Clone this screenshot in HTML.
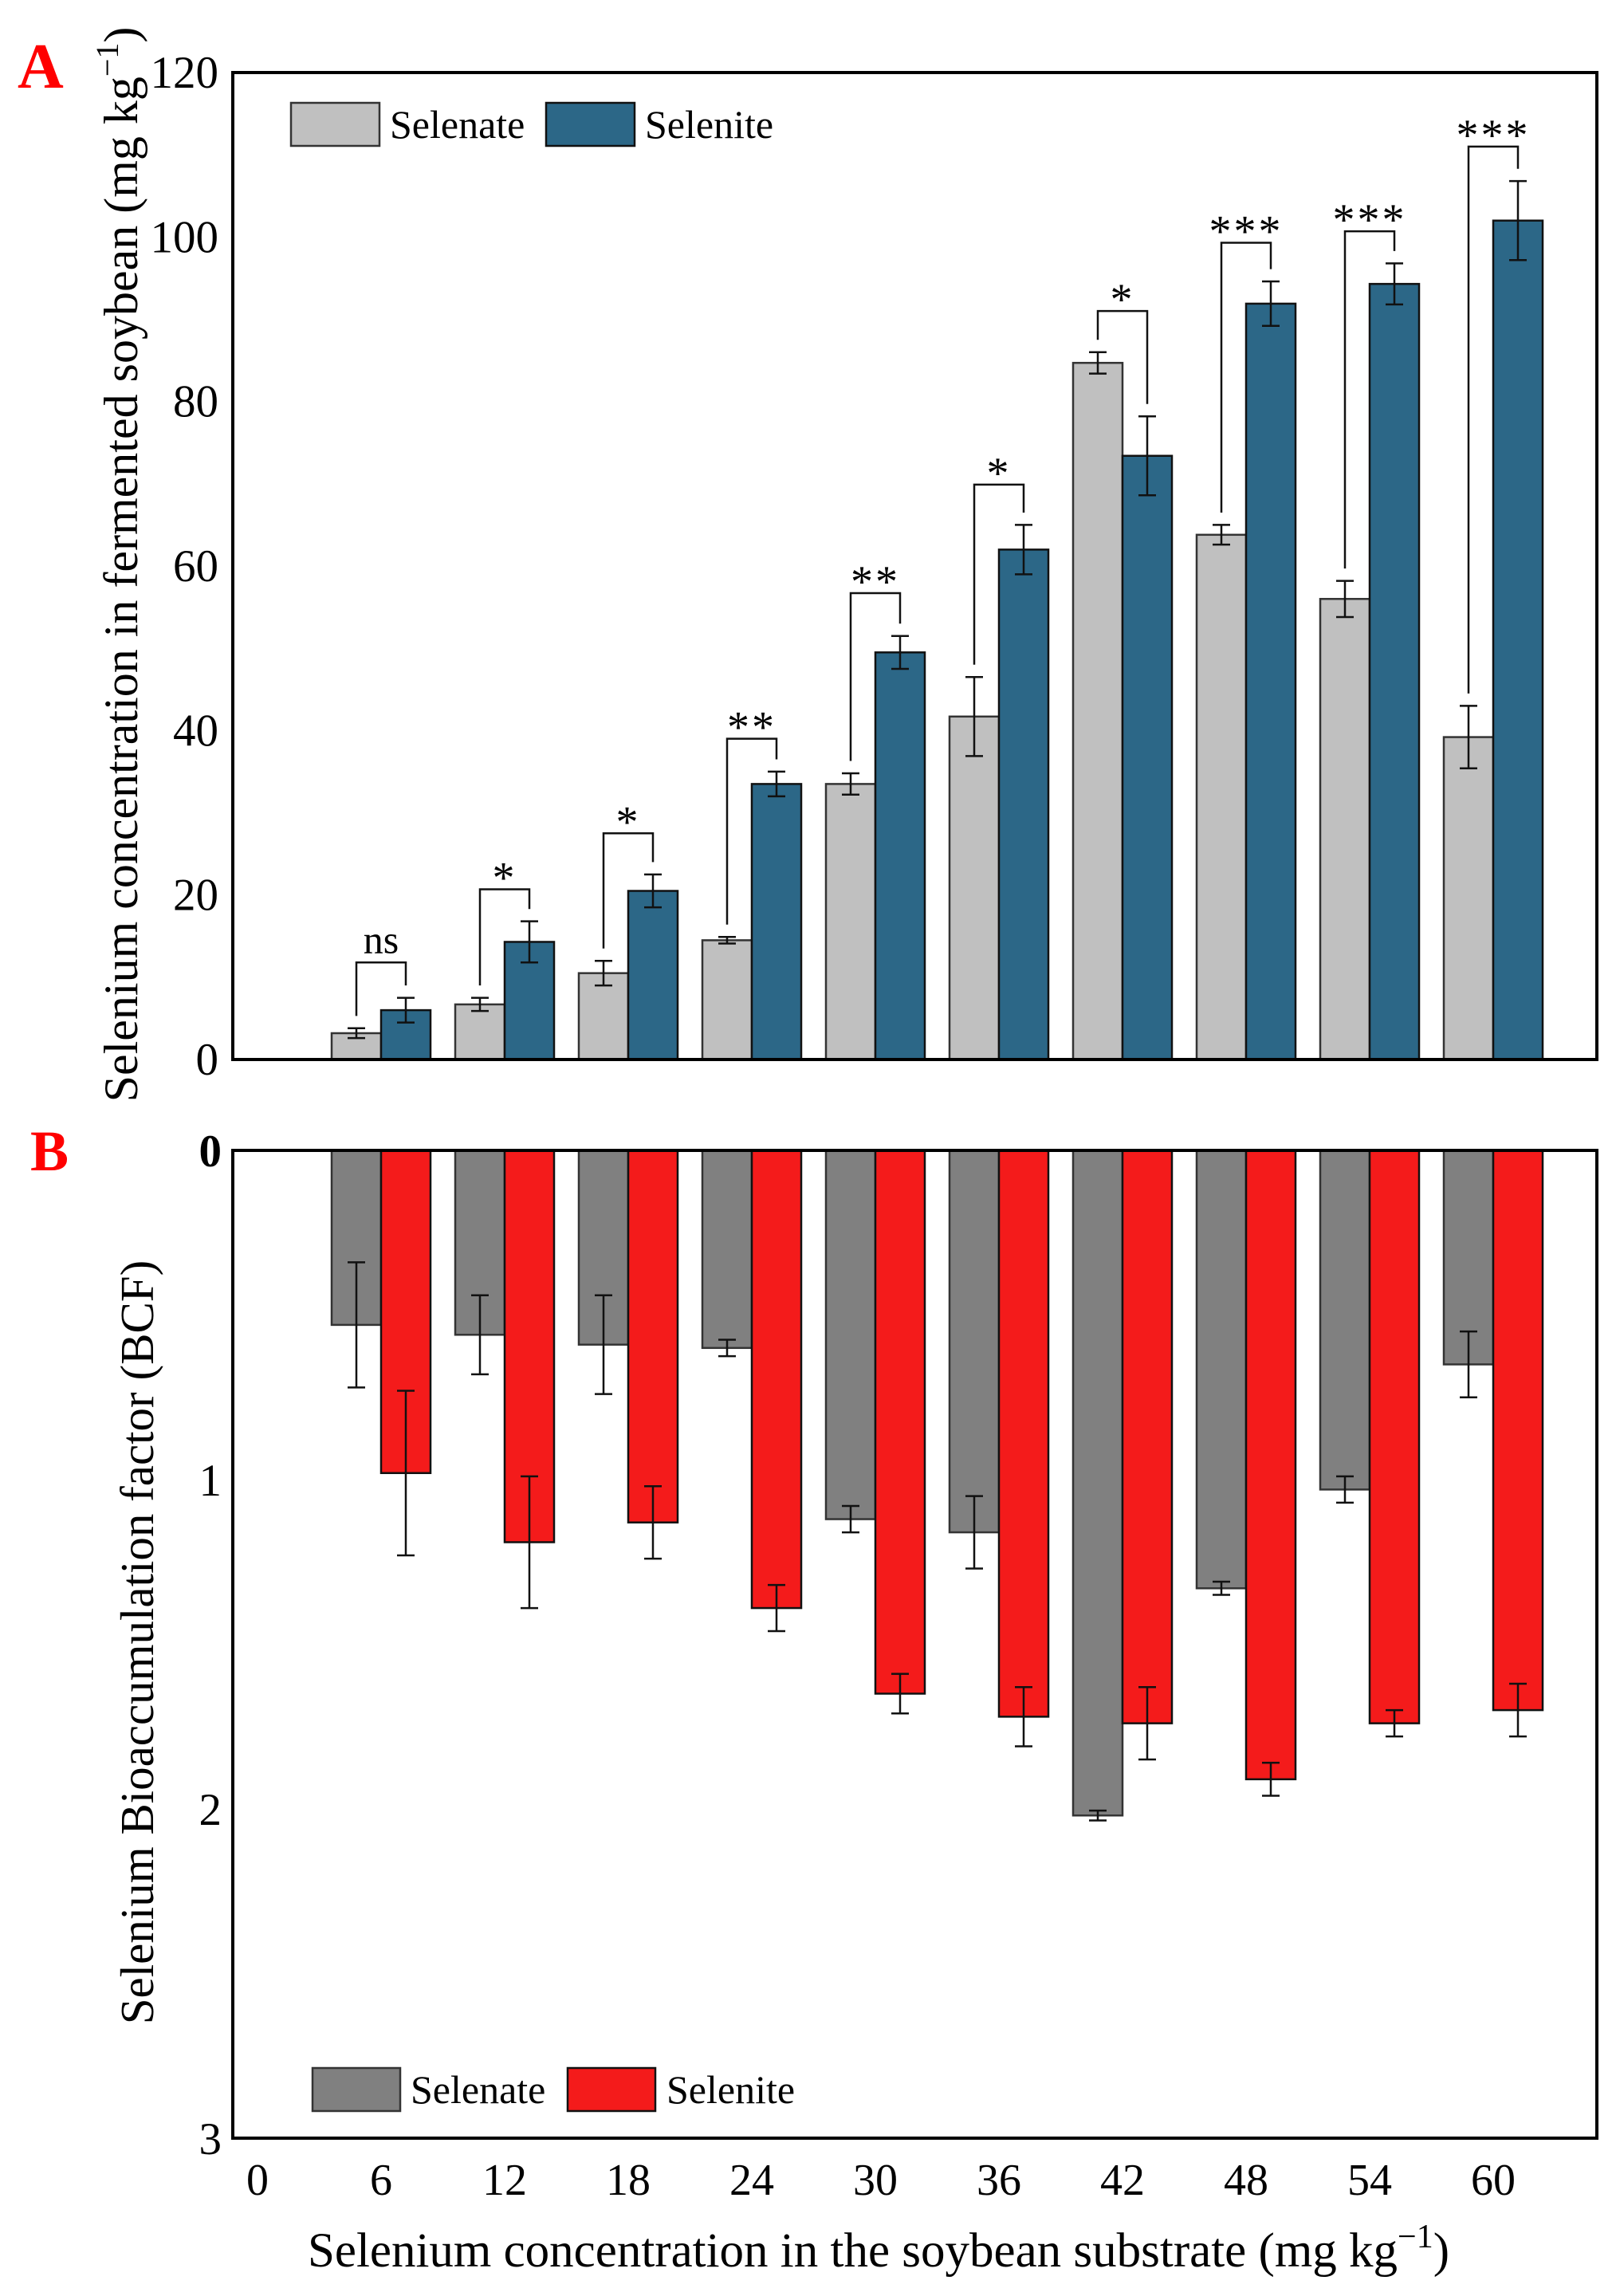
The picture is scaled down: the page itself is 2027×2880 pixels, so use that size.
<!DOCTYPE html>
<html><head><meta charset="utf-8">
<style>
html,body{margin:0;padding:0;background:#fff;}
svg{display:block;font-family:"Liberation Serif",serif;}
svg text{font-family:"Liberation Serif",serif;}
</style></head>
<body>
<svg id="chart" width="2027" height="2880" viewBox="0 0 2027 2880" xmlns="http://www.w3.org/2000/svg"></svg>
<script>
const categories = [6,12,18,24,30,36,42,48,54,60];
const xTicks = [0,6,12,18,24,30,36,42,48,54,60];
const aSelenate = [3.2,6.7,10.5,14.5,33.5,41.7,84.7,63.8,56,39.2];
const aSelenateErr = [0.6,0.8,1.5,0.4,1.3,4.8,1.3,1.2,2.2,3.8];
const aSelenite = [6,14.3,20.5,33.5,49.5,62,73.4,91.9,94.3,102];
const aSeleniteErr = [1.5,2.5,2,1.5,2,3,4.8,2.7,2.5,4.8];
const aSig = ["ns","*","*","**","**","*","*","***","***","***"];
const aBracket = [11.8,20.7,27.5,39,56.7,69.9,91,99.3,100.7,111];
const aTicks = [0,20,40,60,80,100,120];
const bSelenate = [0.53,0.56,0.59,0.6,1.12,1.16,2.02,1.33,1.03,0.65];
const bSelenateErr = [0.19,0.12,0.15,0.025,0.04,0.11,0.015,0.02,0.04,0.1];
const bSelenite = [0.98,1.19,1.13,1.39,1.65,1.72,1.74,1.91,1.74,1.70];
const bSeleniteErr = [0.25,0.2,0.11,0.07,0.06,0.09,0.11,0.05,0.04,0.08];
const bTicks = [0,1,2,3];

const svg = document.getElementById('chart');
const NS = 'http://www.w3.org/2000/svg';
function mk(tag, attrs, parent){const e=document.createElementNS(NS,tag);for(const k in attrs)e.setAttribute(k,attrs[k]);(parent||svg).appendChild(e);return e;}
const L=292,R=2003;
const BW=62;
function xs(v){return 323+v*155/6;}
const A_T=91,A_B=1329;
function ya(v){return A_B-(A_B-A_T)*v/120;}
const B_T=1443,B_B=2682;
function yb(v){return B_T+(B_B-B_T)*v/3;}

function errbar(cx,y1,y2,name){
  const g=mk('g',{});
  
  
  mk('line',{x1:cx,x2:cx,y1:y1,y2:y2,stroke:'#111','stroke-width':2.5},g);
  mk('line',{x1:cx-11,x2:cx+11,y1:y1,y2:y1,stroke:'#111','stroke-width':2.5},g);
  mk('line',{x1:cx-11,x2:cx+11,y1:y2,y2:y2,stroke:'#111','stroke-width':2.5},g);
}
function txt(x,y,s,attrs,name){
  const t=mk('text',Object.assign({x:x,y:y},attrs||{}));
  t.textContent=s;
  
  
  return t;
}

// ---- Panel A ----
categories.forEach((c,i)=>{
  const cx=xs(c);
  let r=mk('rect',{x:cx-BW,y:ya(aSelenate[i]),width:BW,height:A_B-ya(aSelenate[i]),fill:'#c0c0c0',stroke:'#333','stroke-width':2.5});
  
  
  r=mk('rect',{x:cx,y:ya(aSelenite[i]),width:BW,height:A_B-ya(aSelenite[i]),fill:'#2c6787',stroke:'#111','stroke-width':2.5});
  
  
  errbar(cx-BW/2,ya(aSelenate[i]+aSelenateErr[i]),ya(aSelenate[i]-aSelenateErr[i]),'a-err-selenate-'+c);
  errbar(cx+BW/2,ya(aSelenite[i]+aSeleniteErr[i]),ya(aSelenite[i]-aSeleniteErr[i]),'a-err-selenite-'+c);
  const by=ya(aBracket[i]);
  const l1=ya(aSelenate[i]+aSelenateErr[i]+1.5), l2=ya(aSelenite[i]+aSeleniteErr[i]+1.5);
  const p=mk('path',{d:`M${cx-BW/2},${l1} V${by} H${cx+BW/2} V${l2}`,fill:'none',stroke:'#111','stroke-width':2.5});
  
  
  const isNs=aSig[i]==='ns';
  txt(cx,isNs?by-12:by+4,aSig[i],{'font-size':isNs?50:56,'text-anchor':'middle','letter-spacing':isNs?0:3},'a-sig-label-'+c);
});
let fr=mk('rect',{x:L,y:A_T,width:R-L,height:A_B-A_T,fill:'none',stroke:'#000','stroke-width':4});


aTicks.forEach(t=>{
  txt(274,ya(t)+19,String(t),{'font-size':57,'text-anchor':'end'},'a-y-tick-'+t);
});
let yt=mk('text',{transform:'translate(172,708) rotate(-90)','font-size':60,'text-anchor':'middle'});


yt.innerHTML='Selenium concentration in fermented soybean (mg kg<tspan dy="-24" font-size="40">−1</tspan><tspan dy="24">)</tspan>';
txt(22,110,'A',{'font-size':80,'font-weight':'bold',fill:'#f00'},'panel-a-label');
// legend A
let lg=mk('g',{});


let lr=mk('rect',{x:365,y:129,width:111,height:54,fill:'#c0c0c0',stroke:'#333','stroke-width':2.5},lg);

txt(489,173,'Selenate',{'font-size':50},'a-legend-label-selenate');
lr=mk('rect',{x:685,y:129,width:111,height:54,fill:'#2c6787',stroke:'#111','stroke-width':2.5},lg);

txt(809,173,'Selenite',{'font-size':50},'a-legend-label-selenite');

// ---- Panel B ----
categories.forEach((c,i)=>{
  const cx=xs(c);
  let r=mk('rect',{x:cx-BW,y:B_T,width:BW,height:yb(bSelenate[i])-B_T,fill:'#808080',stroke:'#333','stroke-width':2.5});
  
  
  r=mk('rect',{x:cx,y:B_T,width:BW,height:yb(bSelenite[i])-B_T,fill:'#f41b1b',stroke:'#111','stroke-width':2.5});
  
  
  errbar(cx-BW/2,yb(bSelenate[i]-bSelenateErr[i]),yb(bSelenate[i]+bSelenateErr[i]),'b-err-selenate-'+c);
  errbar(cx+BW/2,yb(bSelenite[i]-bSeleniteErr[i]),yb(bSelenite[i]+bSeleniteErr[i]),'b-err-selenite-'+c);
});
fr=mk('rect',{x:L,y:B_T,width:R-L,height:B_B-B_T,fill:'none',stroke:'#000','stroke-width':4});


bTicks.forEach(t=>{
  txt(278,yb(t)+20,String(t),{'font-size':57,'text-anchor':'end','font-weight':t===0?'bold':'normal'},'b-y-tick-'+t);
});
xTicks.forEach(t=>{
  txt(xs(t),2753,String(t),{'font-size':56,'text-anchor':'middle'},'x-tick-'+t);
});
yt=mk('text',{transform:'translate(192,2060) rotate(-90)','font-size':59,'text-anchor':'middle'});


yt.textContent='Selenium Bioaccumulation factor (BCF)';
let xt=mk('text',{x:1102,y:2843,'font-size':61,'text-anchor':'middle'});


xt.innerHTML='Selenium concentration in the soybean substrate (mg kg<tspan dy="-24" font-size="42">−1</tspan><tspan dy="24">)</tspan>';
txt(38,1468,'B',{'font-size':72,'font-weight':'bold',fill:'#f00'},'panel-b-label');
lg=mk('g',{});


lr=mk('rect',{x:392,y:2594,width:110,height:54,fill:'#808080',stroke:'#333','stroke-width':2.5},lg);

txt(515,2638,'Selenate',{'font-size':50},'b-legend-label-selenate');
lr=mk('rect',{x:712,y:2594,width:110,height:54,fill:'#f41b1b',stroke:'#111','stroke-width':2.5},lg);

txt(836,2638,'Selenite',{'font-size':50},'b-legend-label-selenite');
</script>
</body></html>
